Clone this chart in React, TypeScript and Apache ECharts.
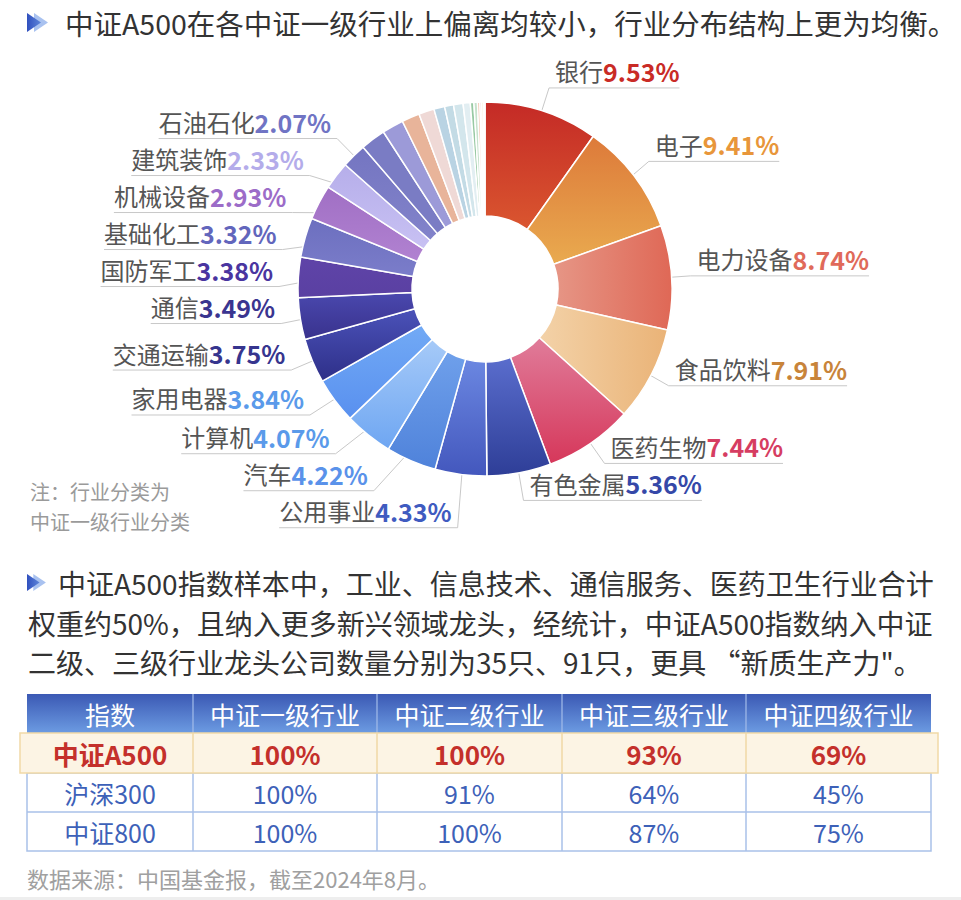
import React, { useEffect, useRef } from 'react';
import * as echarts from 'echarts';

const FONT = '"Noto Sans CJK SC", "Noto Sans", sans-serif';
const CX = 485;
const CY = 289;
const R_IN = 73;
const R_OUT = 187;

// ---- pie data ----
const industries = ['银行', '电子', '电力设备', '食品饮料', '医药生物', '有色金属', '公用事业', '汽车', '计算机', '家用电器', '交通运输', '通信', '国防军工', '基础化工', '机械设备', '建筑装饰', '石油石化'];
const weights = [9.53, 9.41, 8.74, 7.91, 7.44, 5.36, 4.33, 4.22, 4.07, 3.84, 3.75, 3.49, 3.38, 3.32, 2.93, 2.33, 2.07];
const otherWeights = [2.1, 1.8, 1.5, 1.3, 0.9, 0.75, 0.8, 0.6, 0.3, 0.3, 0.2, 0.15, 0.15, 0.12];

const sliceColorA = ['#C42A26', '#DD7A3A', '#E69686', '#F3D2A8', '#E07C9A', '#5A6DCD', '#6B87E1', '#6FA0EB', '#A6CAF8', '#72AAF5', '#4B52B9', '#4A48AE', '#5F44A8', '#6C6FBF', '#A06FC4', '#B6AEEA', '#7475C1'];
const sliceColorB = ['#DA562F', '#E9AA4F', '#DF6856', '#EAB377', '#D6375A', '#2E3E97', '#4357BD', '#4F82DA', '#6EA6F2', '#5990EF', '#2E2F88', '#39328D', '#5A40A2', '#7B7DCA', '#B182D1', '#C8C1F3', '#8283CA'];
const gradHorizontal = [false, false, true, true, false, false, false, false, false, false, false, false, false, false, false, false, false];
const otherColors = ['#7A7CC4', '#9C9AD8', '#E8B49A', '#EFD9D6', '#B9D3E3', '#C3DBE5', '#D3E6EC', '#E2EEF2', '#98C9A3', '#C6E2CC', '#F0B8A0', '#F2C4CC', '#F6DCAE', '#F8E8B8'];
const labelColors = ['#C92B26', '#E8963A', '#E06A5A', '#C8843A', '#D63D62', '#3548A8', '#3F5BC0', '#5A92EA', '#5A9AEA', '#5A9AEA', '#36358E', '#3A3590', '#4A35A0', '#6266BC', '#9C6CC8', '#B4ACEA', '#7074C4'];

// ---- table data ----
const tableHeader = ['指数', '中证一级行业', '中证二级行业', '中证三级行业', '中证四级行业'];
const tableIndexes = ['中证A500', '沪深300', '中证800'];
const level1Coverage = [100, 100, 100];
const level2Coverage = [100, 91, 100];
const level3Coverage = [93, 64, 87];
const level4Coverage = [69, 45, 75];

// ---- texts ----
const titleText = '中证A500在各中证一级行业上偏离均较小，行业分布结构上更为均衡。';
const noteLines = ['注：行业分类为', '中证一级行业分类'];
const paragraphLines = [
  '中证A500指数样本中，工业、信息技术、通信服务、医药卫生行业合计',
  '权重约50%，且纳入更多新兴领域龙头，经统计，中证A500指数纳入中证',
  '二级、三级行业龙头公司数量分别为35只、91只，更具 “新质生产力"。',
];
const sourceText = '数据来源：中国基金报，截至2024年8月。';

function txt(x: number, y: number, text: string, size: number, fill: string, opts: any = {}) {
  return {
    type: 'text',
    x,
    y,
    silent: true,
    style: {
      text,
      fill,
      fontSize: size,
      fontFamily: FONT,
      fontWeight: opts.bold ? 'bold' : 'normal',
      textAlign: opts.align || 'left',
      align: opts.align || 'left',
      textVerticalAlign: 'middle',
      verticalAlign: 'middle',
    },
  };
}

function arrowIcon(x: number, y: number, s: number) {
  return [
    {
      type: 'polygon',
      silent: true,
      shape: { points: [[x + 7 * s, y], [x + 21 * s, y + 9.5 * s], [x + 7 * s, y + 19 * s]] },
      style: { fill: '#A9C2F0' },
    },
    {
      type: 'polygon',
      silent: true,
      shape: { points: [[x, y], [x + 14 * s, y + 9.5 * s], [x, y + 19 * s]] },
      style: {
        fill: new echarts.graphic.LinearGradient(0, 0, 1, 0, [
          { offset: 0, color: '#3050BE' },
          { offset: 1, color: '#5E86DA' },
        ]),
      },
    },
  ];
}

function buildTable() {
  const colX = [27, 193, 377, 562, 746, 931];
  const rowY = [694, 733, 773, 812, 851];
  const els: any[] = [];
  els.push({
    type: 'rect',
    silent: true,
    shape: { x: colX[0], y: rowY[0], width: colX[5] - colX[0], height: rowY[1] - rowY[0] },
    style: {
      fill: new echarts.graphic.LinearGradient(0, 0, 0, 1, [
        { offset: 0, color: '#3B59B4' },
        { offset: 1, color: '#6C9BE2' },
      ]),
    },
  });
  for (let c = 1; c < 5; c++) {
    els.push({
      type: 'line',
      silent: true,
      shape: { x1: colX[c], y1: rowY[0], x2: colX[c], y2: rowY[1] },
      style: { stroke: '#A3BCEA', lineWidth: 1.2 },
    });
  }
  tableHeader.forEach((h, c) => {
    els.push(txt((colX[c] + colX[c + 1]) / 2, (rowY[0] + rowY[1]) / 2, h, 25, '#FFFFFF', { align: 'center' }));
  });
  els.push({
    type: 'rect',
    silent: true,
    shape: { x: colX[0], y: rowY[2], width: colX[5] - colX[0], height: rowY[4] - rowY[2] },
    style: { fill: '#FFFFFF', stroke: '#A9C1E9', lineWidth: 1.5 },
  });
  els.push({
    type: 'line',
    silent: true,
    shape: { x1: colX[0], y1: rowY[3], x2: colX[5], y2: rowY[3] },
    style: { stroke: '#A9C1E9', lineWidth: 1.5 },
  });
  for (let c = 1; c < 5; c++) {
    els.push({
      type: 'line',
      silent: true,
      shape: { x1: colX[c], y1: rowY[2], x2: colX[c], y2: rowY[4] },
      style: { stroke: '#A9C1E9', lineWidth: 1.5 },
    });
  }
  els.push({
    type: 'rect',
    silent: true,
    shape: { x: 20, y: rowY[1], width: 918, height: rowY[2] - rowY[1] },
    style: { fill: '#FCF4E4', stroke: '#F1D9A6', lineWidth: 1.5 },
  });
  for (let c = 1; c < 5; c++) {
    els.push({
      type: 'line',
      silent: true,
      shape: { x1: colX[c], y1: rowY[1], x2: colX[c], y2: rowY[2] },
      style: { stroke: '#F1D9A6', lineWidth: 1.5 },
    });
  }
  const cols = [level1Coverage, level2Coverage, level3Coverage, level4Coverage];
  tableIndexes.forEach((name, r) => {
    const hl = r === 0;
    const color = hl ? '#C4302B' : '#3D61B8';
    const yc = (rowY[r + 1] + rowY[r + 2]) / 2;
    els.push(txt((colX[0] + colX[1]) / 2, yc, name, hl ? 26 : 25, color, { align: 'center', bold: hl }));
    cols.forEach((vals, c) => {
      els.push(txt((colX[c + 1] + colX[c + 2]) / 2, yc, vals[r] + '%', hl ? 26 : 25, color, { align: 'center', bold: hl }));
    });
  });
  return els;
}

export default function App() {
  const ref = useRef<HTMLDivElement>(null);
  useEffect(() => {
    document.body.style.margin = '0';
    const chart = echarts.init(ref.current!, null, { renderer: 'svg' });

    const rich: any = {
      n: { fontSize: 24, color: '#555555', fontFamily: FONT },
    };
    labelColors.forEach((c, i) => {
      rich['v' + i] = { fontSize: 25, fontWeight: 'bold', color: c, fontFamily: FONT };
    });

    const data: any[] = industries.map((name, i) => ({
      name,
      value: weights[i],
      itemStyle: {
        color: new echarts.graphic.LinearGradient(0, 0, gradHorizontal[i] ? 1 : 0, gradHorizontal[i] ? 0 : 1, [
          { offset: 0, color: sliceColorA[i] },
          { offset: 1, color: sliceColorB[i] },
        ]),
      },
    }));
    otherWeights.forEach((v, i) => {
      data.push({
        name: '其他' + (i + 1),
        value: v,
        itemStyle: { color: otherColors[i] },
        label: { show: false },
        labelLine: { show: false },
      });
    });

    const graphic: any[] = [
      ...arrowIcon(27, 13, 1),
      txt(65, 22, titleText, 28.5, '#333333'),
      txt(30, 491, noteLines[0], 20, '#9A9A9A'),
      txt(30, 521, noteLines[1], 20, '#9A9A9A'),
      ...arrowIcon(27, 574, 0.9),
      txt(58, 583, paragraphLines[0], 28, '#333333'),
      txt(28, 623, paragraphLines[1], 28, '#333333'),
      txt(28, 662, paragraphLines[2], 28, '#333333'),
      ...buildTable(),
      txt(27, 878, sourceText, 22, '#A0A0A0'),
      {
        type: 'rect',
        silent: true,
        shape: { x: 0, y: 897, width: 961, height: 3 },
        style: { fill: '#EEEEEE' },
      },
    ];

    chart.setOption({
      animation: false,
      backgroundColor: '#FFFFFF',
      graphic,
      series: [
        {
          type: 'pie',
          center: [CX, CY],
          radius: [R_IN, R_OUT],
          startAngle: 90,
          clockwise: true,
          avoidLabelOverlap: true,
          itemStyle: { borderColor: '#FFFFFF', borderWidth: 1.5 },
          emphasis: { disabled: true },
          label: {
            show: true,
            position: 'outside',
            formatter: (p: any) => `{n|${p.name}}{v${p.dataIndex}|${Number(p.value).toFixed(2)}%}`,
            rich,
            minMargin: 12,
            textBorderWidth: 0,
          },
          labelLine: {
            show: true,
            length: 24,
            length2: 1,
            lineStyle: { color: '#C8C8C8', width: 1 },
          },
          labelLayout: (params: any) => {
            if (params.dataIndex >= industries.length) return {};
            const pts = params.labelLinePoints;
            const rect = params.labelRect;
            if (!pts || !rect) return {};
            const isLeft = rect.x + rect.width / 2 < CX;
            const p0 = pts[0];
            const q0 = [CX + (p0[0] - CX) * 0.88, CY + (p0[1] - CY) * 0.88];
            const yLine = pts[2][1];
            const p2 = [isLeft ? rect.x : rect.x + rect.width, yLine];
            return {
              y: rect.y + rect.height / 2 - 17,
              labelLinePoints: [q0, pts[1], p2],
            };
          },
          data,
        },
      ],
    });
    return () => chart.dispose();
  }, []);
  return <div ref={ref} style={{ width: 961, height: 900 }} />;
}
